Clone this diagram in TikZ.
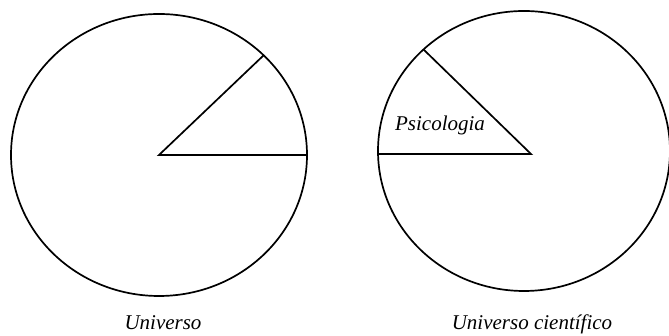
\documentclass[tikz,border=0pt]{standalone}
\usepackage{fontspec}
\setmainfont{Liberation Serif}
\usetikzlibrary{calc}
\tikzset{rim/.style={line width=1.7pt},
 lbl/.style={font=\fontsize{21}{25}\selectfont\itshape,inner sep=0pt}}
\begin{document}
\begin{tikzpicture}[x=1pt,y=1pt]
 \useasboundingbox (0,0) rectangle (669,336);
 \coordinate (U) at (159,181);
 \coordinate (C) at (524,185);
 \coordinate (A) at (531,182);

 \draw[rim] (U) ellipse [x radius=148,y radius=141];
 \draw[rim] (C) ellipse [x radius=146,y radius=140];

 \coordinate (U1) at ($(U)+(45:148 and 141)$);
 \coordinate (U2) at ($(U)+(148,0)$);
 \coordinate (C1) at ($(C)+(133.5:146 and 140)$);
 \coordinate (C2) at ($(C)+(-146,-3)$);

 \draw[rim] (U1) -- (U) -- (U2);
 \draw[rim] (C1) -- (A) -- (C2);

 \node[lbl,anchor=base] (P) at (440,205) {Psicologia};
 \node[lbl,anchor=base] (L1) at (163,6) {Universo};
 \node[lbl,anchor=base] (L2) at (532,6) {Universo científico};
\end{tikzpicture}
\end{document}
